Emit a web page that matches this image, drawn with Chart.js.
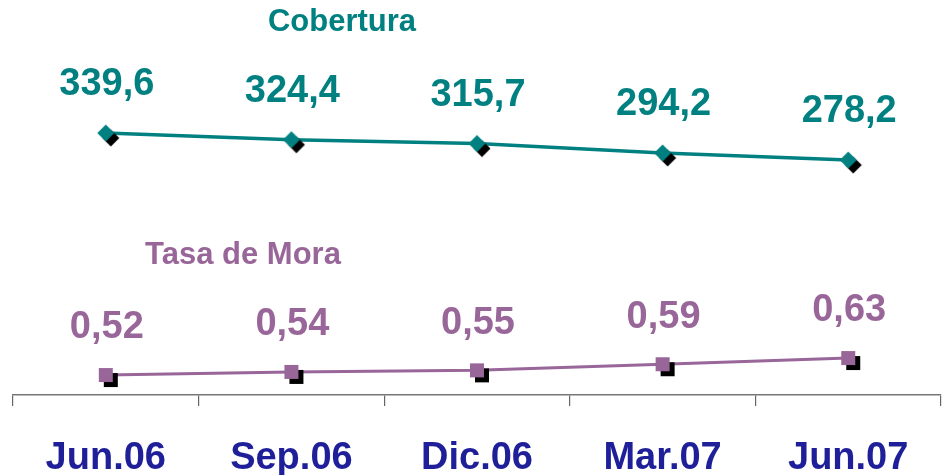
<!DOCTYPE html>
<html>
<head>
<meta charset="utf-8">
<script src="https://cdn.jsdelivr.net/npm/chart.js@4/dist/chart.umd.min.js"></script>
<style>
html,body{margin:0;padding:0;background:#fff;}
#c{display:block;}
</style>
</head>
<body>
<canvas id="c" width="943" height="475"></canvas>
<script>
const categories = ["Jun.06", "Sep.06", "Dic.06", "Mar.07", "Jun.07"];
const cobertura = [339.6, 324.4, 315.7, 294.2, 278.2];
const tasaMora = [0.52, 0.54, 0.55, 0.59, 0.63];
const seriesNames = ["Cobertura", "Tasa de Mora"];

const TEAL = "#008080";
const PURPLE = "#996699";
const NAVY = "#1f1f9a";
const FONT = "'Liberation Sans', Arial, sans-serif";

function makeMarker(kind, color) {
  const cv = document.createElement("canvas");
  cv.width = 36; cv.height = 36;
  const c = cv.getContext("2d");
  const cx = 18, cy = 18;
  function shape(x, y) {
    c.beginPath();
    if (kind === "diamond") {
      const r = 8.5;
      c.moveTo(x, y - r); c.lineTo(x + r, y); c.lineTo(x, y + r); c.lineTo(x - r, y); c.closePath();
    } else {
      const h = 7;
      c.rect(x - h, y - h, 2 * h, 2 * h);
    }
    c.fill();
  }
  c.fillStyle = "#000";
  shape(cx + 5, cy + 5);
  c.fillStyle = color;
  shape(cx, cy);
  return cv;
}

function fmt(v, d) { return v.toFixed(d).replace(".", ","); }

const labelPlugin = {
  id: "valueLabels",
  afterDatasetsDraw(chart) {
    const ctx = chart.ctx;
    ctx.save();
    ctx.textAlign = "center";
    ctx.textBaseline = "middle";
    ctx.font = "bold 38px " + FONT;
    const cfg = [{ds: 0, color: TEAL, dec: 1, off: 48}, {ds: 1, color: PURPLE, dec: 2, off: 47}];
    cfg.forEach(k => {
      const meta = chart.getDatasetMeta(k.ds);
      const data = chart.data.datasets[k.ds].data;
      ctx.fillStyle = k.color;
      meta.data.forEach((pt, i) => {
        ctx.fillText(fmt(data[i], k.dec), pt.x + 1, pt.y - k.off);
      });
    });
    ctx.font = "bold 31px " + FONT;
    ctx.fillStyle = TEAL;
    ctx.fillText(seriesNames[0], 342, 22);
    ctx.fillStyle = PURPLE;
    ctx.fillText(seriesNames[1], 243, 255);
    ctx.restore();
  }
};

new Chart(document.getElementById("c"), {
  type: "line",
  data: {
    labels: categories,
    datasets: [
      {
        label: seriesNames[0],
        data: cobertura,
        yAxisID: "y",
        borderColor: TEAL,
        borderWidth: 3.5,
        pointStyle: makeMarker("diamond", TEAL),
        pointRadius: 10,
        tension: 0,
        clip: false
      },
      {
        label: seriesNames[1],
        data: tasaMora,
        yAxisID: "y2",
        borderColor: PURPLE,
        borderWidth: 3,
        pointStyle: makeMarker("square", PURPLE),
        pointRadius: 10,
        tension: 0,
        clip: false
      }
    ]
  },
  options: {
    responsive: false,
    animation: false,
    devicePixelRatio: 1,
    layout: {autoPadding: false, padding: {left: 13, right: 2, top: 0, bottom: 0}},
    plugins: {legend: {display: false}, tooltip: {enabled: false}},
    scales: {
      x: {
        type: "category",
        offset: true,
        grid: {offset: true, drawOnChartArea: false, drawTicks: true, tickLength: 11, color: "#666", lineWidth: 1.2},
        border: {display: true, color: "#777", width: 1.5},
        ticks: {color: NAVY, font: {family: FONT, size: 38, weight: "bold"}, padding: 30, maxRotation: 0, autoSkip: false},
        afterFit(scale) {
          scale.height = 80;
          scale.paddingLeft = 0;
          scale.paddingRight = 0;
        }
      },
      y: {display: false, min: -256.2, max: 642.1},
      y2: {display: false, min: 0.3906, max: 2.947}
    }
  },
  plugins: [labelPlugin]
});
</script>
</body>
</html>
